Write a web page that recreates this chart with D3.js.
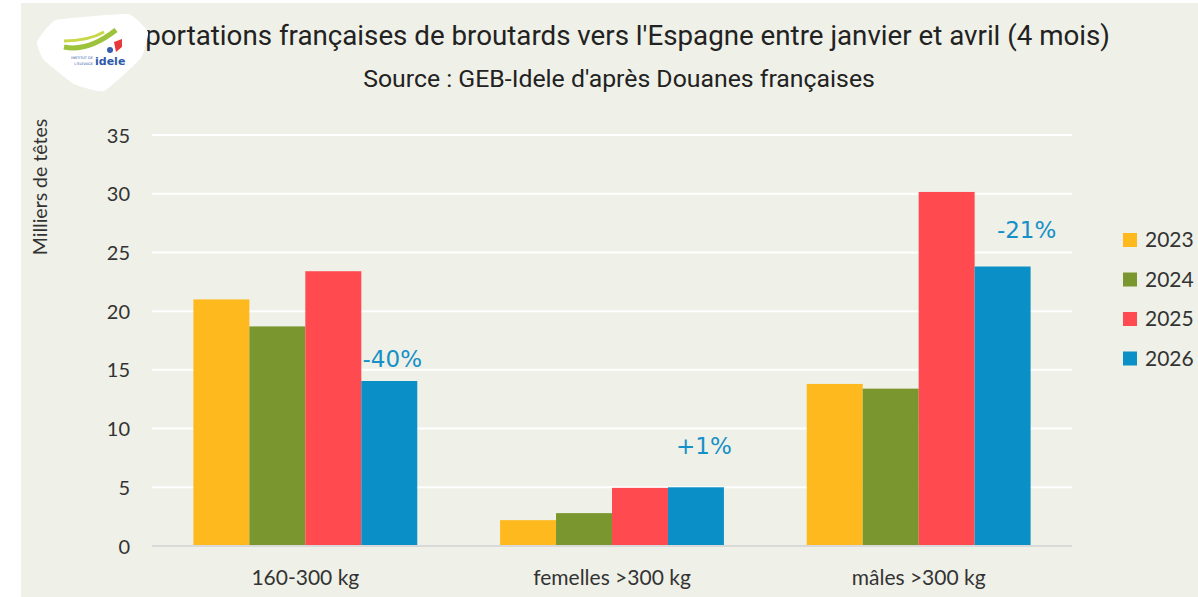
<!DOCTYPE html>
<html><head><meta charset="utf-8">
<script src="https://cdn.jsdelivr.net/npm/d3@7"></script>
<style>
html,body{margin:0;padding:0;background:#fff;}
svg{display:block;}
</style></head>
<body>
<svg id="chart" width="1198" height="597"></svg>
<script>
// ---- data ----
const categories = ["160-300 kg", "femelles >300 kg", "mâles >300 kg"];
const years = ["2023", "2024", "2025", "2026"];
const values2023 = [21.0, 2.2, 13.8];
const values2024 = [18.7, 2.8, 13.4];
const values2025 = [23.4, 4.95, 30.15];
const values2026 = [14.05, 5.0, 23.8];
const changeLabels = ["-40%", "+1%", "-21%"];
const yTicks = [0, 5, 10, 15, 20, 25, 30, 35];
const titleText = "Exportations françaises de broutards vers l'Espagne entre janvier et avril (4 mois)";
const subtitleText = "Source : GEB-Idele d'après Douanes françaises";
const yAxisTitle = "Milliers de têtes";

// ---- styling / layout ----
const colors = {"2023": "#FDB91E", "2024": "#7A962E", "2025": "#FF4B50", "2026": "#0A90C6"};
const labelColor = "#1591C8";
const labelOffsets = [[3, -14], [8, -33], [24, -29]]; // manual label placement (dx, dy) relative to 2026 bar
const bg = "#EFF0E7";

const series = years.map((y, i) => ({year: y, values: [values2023, values2024, values2025, values2026][i]}));

const svg = d3.select("#chart");
svg.append("rect").attr("x", 21).attr("y", 3).attr("width", 1177).attr("height", 594).attr("fill", bg);

const x0 = d3.scaleBand().domain(categories).range([152, 1072]).paddingInner(0.27).paddingOuter(0.135);
const x1 = d3.scaleBand().domain(years).range([0, x0.bandwidth()]).padding(0);
const y = d3.scaleLinear().domain([0, 35]).range([546, 135]);

// gridlines
const grid = svg.append("g");
grid.selectAll("line").data(yTicks.filter(d => d > 0)).join("line")
  .attr("x1", 152).attr("x2", 1072)
  .attr("y1", d => y(d)).attr("y2", d => y(d))
  .attr("stroke", "#ffffff").attr("stroke-width", 2);

// y axis
const yAxis = d3.axisLeft(y).tickValues(yTicks).tickSize(0).tickPadding(0).tickFormat(d3.format("d"));
const yg = svg.append("g").attr("transform", "translate(130,0)").call(yAxis);
yg.select(".domain").remove();
yg.selectAll("text").attr("font-family", "Lato").attr("font-size", 20).attr("fill", "#333").attr("dy", "0.35em");

// bars
const groups = svg.append("g").selectAll("g").data(series).join("g").attr("fill", d => colors[d.year]);
groups.selectAll("rect").data(d => d.values.map((v, i) => ({year: d.year, cat: categories[i], v}))).join("rect")
  .attr("x", d => x0(d.cat) + x1(d.year))
  .attr("width", x1.bandwidth())
  .attr("y", d => y(d.v))
  .attr("height", d => y(0) - y(d.v));

// x axis baseline
const xAxis = d3.axisBottom(x0).tickSize(0).tickPadding(0);
const xg = svg.append("g").attr("transform", "translate(0," + y(0) + ")").call(xAxis);
xg.select(".domain").attr("stroke", "#D9D9D9").attr("stroke-width", 2).attr("d", "M152,0H1072");
xg.selectAll("text").attr("font-family", "Lato").attr("font-size", 21).attr("fill", "#333").attr("y", 39).attr("dy", 0);

// change labels
svg.append("g").selectAll("text").data(changeLabels).join("text")
  .attr("x", (d, i) => x0(categories[i]) + x1("2026") + x1.bandwidth() / 2 + labelOffsets[i][0])
  .attr("y", (d, i) => y(values2026[i]) + labelOffsets[i][1])
  .attr("text-anchor", "middle")
  .attr("font-family", "DejaVu Sans").attr("font-size", 23).attr("fill", labelColor)
  .text(d => d);

// y axis title
svg.append("text").attr("transform", "translate(47,187) rotate(-90)")
  .attr("text-anchor", "middle").attr("font-family", "Lato").attr("font-size", 19.5).attr("fill", "#333")
  .text(yAxisTitle);

// legend
const leg = svg.append("g").selectAll("g").data(years).join("g")
  .attr("transform", (d, i) => "translate(1123," + (233 + i * 39.5) + ")");
leg.append("rect").attr("width", 14).attr("height", 14).attr("fill", d => colors[d]);
leg.append("text").attr("x", 22).attr("y", 14).attr("font-family", "Lato").attr("font-size", 21).attr("fill", "#333").text(d => d);

// title (fit to measured width)
function fitted(text, size, fam, target) {
  const t = svg.append("text").attr("font-family", fam).attr("font-size", size).text(text);
  const w = t.node().getComputedTextLength();
  t.remove();
  return size * target / w;
}
const titleFont = "Roboto";
const visiblePart = titleText.slice(2);
const tSize = fitted(visiblePart, 28, titleFont, 965);
svg.append("text").attr("x", 1110).attr("y", 45).attr("text-anchor", "end")
  .attr("font-family", titleFont).attr("font-size", tSize).attr("fill", "#222").text(titleText);
const sSize = fitted(subtitleText, 22, titleFont, 512);
svg.append("text").attr("x", 619).attr("y", 87).attr("text-anchor", "middle")
  .attr("font-family", titleFont).attr("font-size", sSize).attr("fill", "#222").text(subtitleText);

// logo
const logoPts = [[37, 42], [56, 20], [128, 14], [148, 32], [141, 58], [104, 91], [74, 84], [44, 60]];
const logo = svg.append("g");
logo.append("path").attr("d", d3.line().curve(d3.curveCardinalClosed.tension(0.6))(logoPts)).attr("fill", "#ffffff");
logo.append("path").attr("d", "M64,47 Q88,52 116,30").attr("stroke", "#9DC23B").attr("stroke-width", 5).attr("fill", "none");
logo.append("path").attr("d", "M64,41 Q88,41 104,32").attr("stroke", "#C8D848").attr("stroke-width", 3).attr("fill", "none");
logo.append("path").attr("d", "M114,42 l8,-3 l0,8 l-6,5 z").attr("fill", "#E63A3A");
logo.append("circle").attr("cx", 110).attr("cy", 50).attr("r", 3).attr("fill", "#3A5DAE");
logo.append("text").attr("x", 95).attr("y", 65).attr("font-family", "DejaVu Sans").attr("font-weight", "bold")
  .attr("font-size", 11).attr("fill", "#2F5AA8").text("idele");
logo.append("text").attr("x", 93).attr("y", 59).attr("text-anchor", "end").attr("font-family", "DejaVu Sans")
  .attr("font-size", 3.5).attr("fill", "#2F5AA8").text("INSTITUT DE");
logo.append("text").attr("x", 93).attr("y", 64.5).attr("text-anchor", "end").attr("font-family", "DejaVu Sans")
  .attr("font-size", 3.5).attr("fill", "#2F5AA8").text("L'ÉLEVAGE");
</script>
</body></html>
